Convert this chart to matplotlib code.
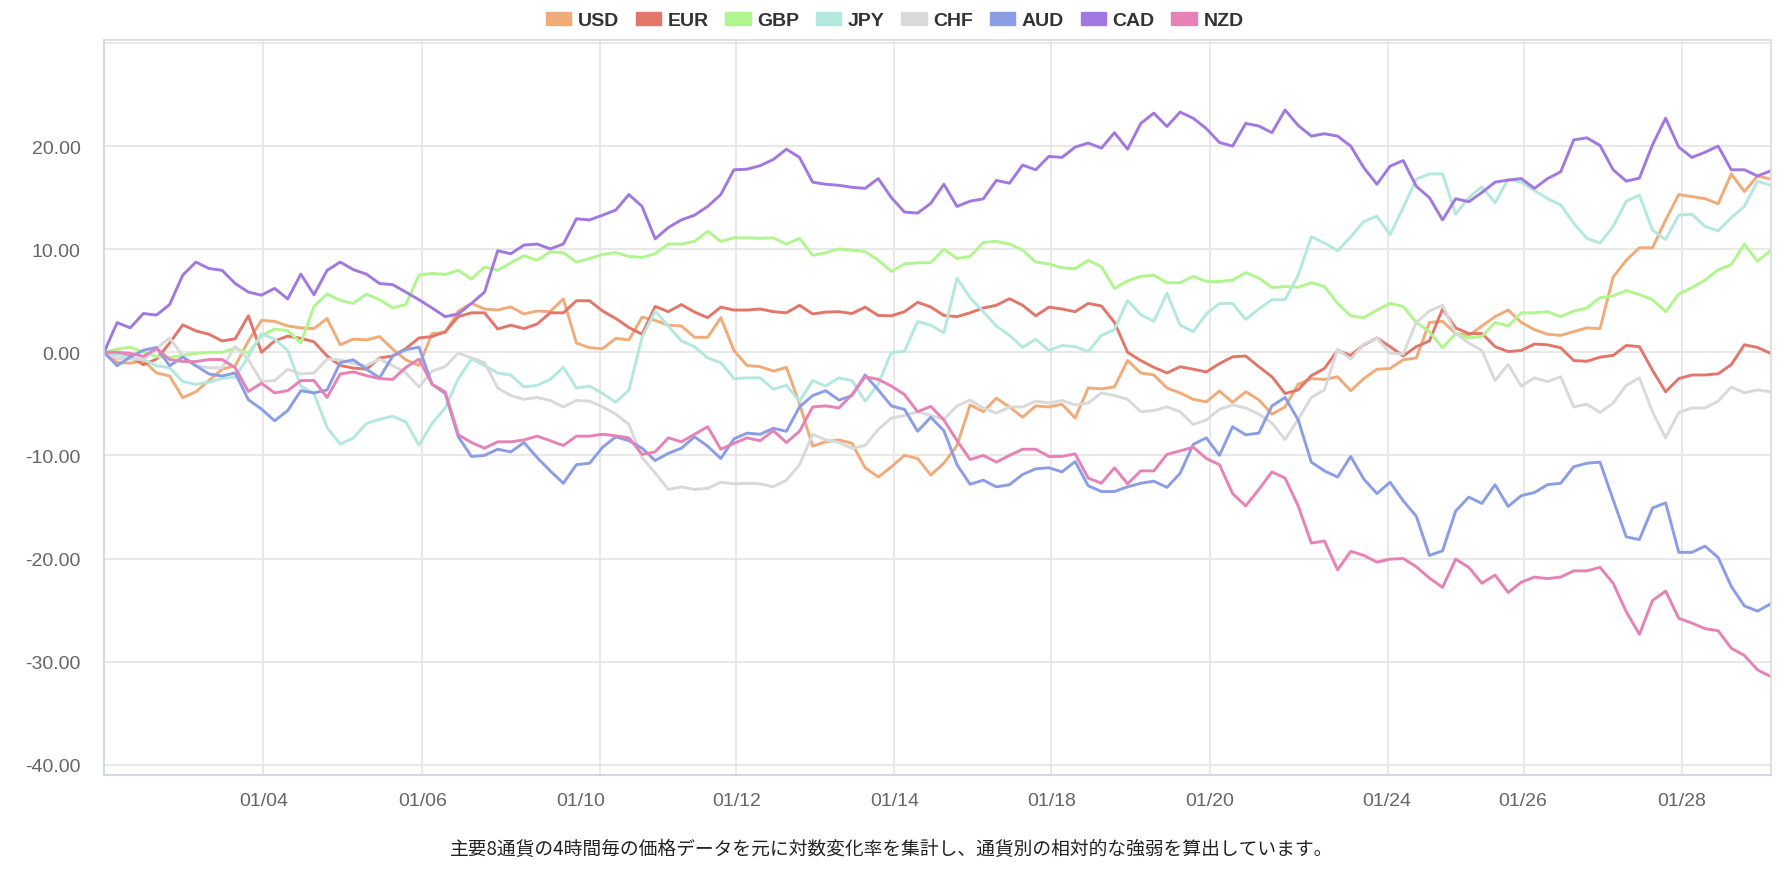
import numpy as np
import matplotlib
matplotlib.use("Agg")
import matplotlib.pyplot as plt
import matplotlib.patches as mpatches

# 4h log-return based strength index, one value per 4h bar
usd = [0, -0.98, -1.06, -0.8, -2.0, -2.3, -4.4, -3.83, -2.74, -1.64, -1.3, 1.1, 3.1,
       3.0, 2.55, 2.37, 2.3, 3.28, 0.73, 1.28, 1.2, 1.53, 0.3, -0.73, -1.28, 1.82,
       1.9, 4.0, 4.74, 4.2, 4.1, 4.4, 3.72, 4.0, 3.94, 5.18, 0.9, 0.44, 0.36,
       1.35, 1.2, 3.4, 3.1, 2.63, 2.55, 1.46, 1.46, 3.36, 0.18, -1.28, -1.39,
       -1.82, -1.46, -5.0, -9.1, -8.68, -8.5, -8.83, -11.2, -12.1, -11.1, -10.0, -10.3, -11.9,
       -10.76, -9.04, -5.1, -5.76, -4.45, -5.3, -6.3, -5.2, -5.3, -5.03, -6.38, -3.46,
       -3.54, -3.36, -0.8, -2.0, -2.2, -3.46, -3.94, -4.56, -4.8, -3.76, -4.85, -3.83, -4.6,
       -6.0, -5.3, -3.1, -2.55, -2.63, -2.37, -3.72, -2.55, -1.64, -1.57, -0.73, -0.55,
       2.9, 3.0, 1.82, 1.64, 2.55, 3.46, 4.1, 2.9, 2.2, 1.75, 1.64, 2.0, 2.37,
       2.3, 7.3, 8.93, 10.14, 10.14, 12.84, 15.3, 15.1, 14.9, 14.4, 17.3, 15.6, 17.1, 16.8]
eur = [0, -0.2, -0.4, -1.2, -0.66, 0.9, 2.66, 2.08, 1.75, 1.1, 1.31, 3.54, 0,
       1.1, 1.57, 1.35, 1.02, -0.36, -1.28, -1.53, -1.64, -0.55, -0.36, 0.36, 1.39, 1.53,
       2.0, 3.46, 3.83, 3.83, 2.26, 2.63, 2.3, 2.74, 3.83, 3.83, 5.0, 5.0, 4.0,
       3.28, 2.4, 1.75, 4.45, 3.94, 4.63, 3.9, 3.36, 4.38, 4.1, 4.1, 4.2,
       3.94, 3.83, 4.56, 3.72, 3.9, 3.94, 3.76, 4.38, 3.57, 3.54, 3.94, 4.85, 4.4,
       3.57, 3.46, 3.83, 4.3, 4.56, 5.2, 4.56, 3.54, 4.38, 4.2, 3.94, 4.74,
       4.5, 2.9, 0, -0.8, -1.46, -2.0, -1.4, -1.64, -1.9, -1.1, -0.44, -0.36, -1.4,
       -2.37, -4.0, -3.65, -2.26, -1.57, 0.18, -0.3, 0.73, 1.39, 0.55, -0.36, 0.55,
       1.1, 4.2, 2.37, 1.82, 1.82, 0.55, 0.07, 0.18, 0.8, 0.73, 0.44, -0.8, -0.87,
       -0.47, -0.3, 0.66, 0.55, -1.75, -3.83, -2.55, -2.2, -2.2, -2.08, -1.2, 0.73, 0.47, -0.1]
gbp = [0, 0.3, 0.5, 0, -0.4, -0.5, -0.3, -0.1, 0, 0, 0.4, -0.1, 1.6,
       2.26, 2.1, 0.9, 4.45, 5.65, 5.03, 4.74, 5.65, 5.1, 4.3, 4.63, 7.48, 7.66,
       7.55, 7.95, 7.1, 8.27, 7.95, 8.68, 9.37, 8.93, 9.74, 9.66, 8.75, 9.1, 9.5,
       9.66, 9.3, 9.2, 9.56, 10.5, 10.5, 10.76, 11.74, 10.76, 11.1, 11.1, 11.05,
       11.1, 10.5, 11.05, 9.4, 9.66, 10.03, 9.9, 9.77, 8.93, 7.84, 8.57, 8.68, 8.7,
       10.0, 9.1, 9.3, 10.65, 10.76, 10.5, 9.92, 8.75, 8.57, 8.2, 8.1, 8.93,
       8.3, 6.2, 6.93, 7.37, 7.48, 6.75, 6.75, 7.37, 6.86, 6.86, 7.0, 7.73, 7.2,
       6.27, 6.38, 6.3, 6.75, 6.38, 4.74, 3.54, 3.36, 4.1, 4.74, 4.45, 2.9,
       2.0, 0.44, 1.82, 1.39, 1.53, 2.9, 2.55, 3.83, 3.83, 3.94, 3.46, 4.0, 4.3,
       5.3, 5.47, 6.0, 5.6, 5.1, 3.94, 5.65, 6.27, 7.0, 8.0, 8.5, 10.5, 8.83, 9.85]
jpy = [0, -0.2, -0.55, -0.7, -1.3, -1.5, -2.84, -3.1, -2.9, -2.55, -2.4, -0.4, 1.8,
       1.28, 0.18, -3.28, -4.0, -7.3, -8.9, -8.3, -6.9, -6.5, -6.2, -6.75, -9.0, -6.9,
       -5.4, -2.55, -0.66, -1.28, -2.0, -2.2, -3.36, -3.2, -2.63, -1.46, -3.46, -3.28, -4.0,
       -4.85, -3.65, 1.46, 4.0, 2.55, 1.1, 0.55, -0.55, -1.0, -2.55, -2.48, -2.48,
       -3.57, -3.2, -4.74, -2.74, -3.28, -2.48, -2.74, -4.74, -3.1, 0, 0.1, 3.0, 2.63,
       1.9, 7.18, 5.3, 3.94, 2.55, 1.64, 0.47, 1.28, 0.18, 0.66, 0.55, 0.07,
       1.64, 2.2, 5.03, 3.65, 3.0, 5.73, 2.63, 2.0, 3.72, 4.74, 4.74, 3.2, 4.2,
       5.1, 5.1, 7.48, 11.2, 10.6, 9.85, 11.2, 12.7, 13.2, 11.4, 14.04, 16.8,
       17.3, 17.3, 13.4, 15.0, 16.05, 14.5, 16.8, 16.5, 15.7, 14.9, 14.3, 12.5, 11.05,
       10.6, 12.2, 14.66, 15.24, 11.85, 10.94, 13.3, 13.4, 12.2, 11.78, 13.05, 14.15, 16.6, 16.2]
chf = [0, -0.6, -0.65, -0.7, 0.36, 1.4, -0.36, -1.3, -1.5, -1.5, 0.55, -0.7, -2.84,
       -2.74, -1.64, -2.1, -2.0, -0.66, -0.73, -1.1, -1.28, -0.66, -1.28, -2.0, -3.36, -1.82,
       -1.39, -0.07, -0.55, -1.0, -3.46, -4.2, -4.56, -4.38, -4.67, -5.3, -4.67, -4.74, -5.3,
       -6.0, -7.0, -10.2, -11.7, -13.3, -13.05, -13.3, -13.2, -12.6, -12.76, -12.7, -12.76,
       -13.05, -12.4, -10.9, -7.95, -8.5, -8.75, -9.3, -9.04, -7.48, -6.38, -6.13, -5.76, -6.13,
       -6.5, -5.2, -4.63, -5.4, -5.9, -5.3, -5.3, -4.74, -4.92, -4.67, -5.1, -4.92,
       -3.94, -4.2, -4.56, -5.76, -5.65, -5.3, -5.76, -7.0, -6.56, -5.54, -5.1, -5.4, -6.0,
       -6.86, -8.46, -6.5, -4.38, -3.65, 0.3, -0.66, 0.8, 1.39, -0.07, -0.18, 2.9,
       4.0, 4.56, 1.82, 0.9, 0.18, -2.74, -1.17, -3.28, -2.48, -2.84, -2.37, -5.3, -5.03,
       -5.84, -4.92, -3.2, -2.48, -5.76, -8.3, -5.84, -5.4, -5.4, -4.74, -3.36, -3.94, -3.65, -3.83]
aud = [0, -1.3, -0.45, 0.2, 0.47, -1.3, -0.47, -1.3, -2.1, -2.3, -2.0, -4.6, -5.5,
       -6.64, -5.65, -3.72, -3.94, -3.65, -1.0, -0.73, -1.64, -2.48, -0.36, 0.26, 0.5, -3.1,
       -4.0, -8.2, -10.1, -10.0, -9.4, -9.66, -8.75, -10.2, -11.5, -12.7, -10.9, -10.76, -9.2,
       -8.2, -8.57, -9.3, -10.5, -9.8, -9.3, -8.2, -9.1, -10.3, -8.4, -7.84, -7.95,
       -7.37, -7.66, -5.3, -4.2, -3.72, -4.63, -4.2, -2.2, -3.65, -5.2, -5.54, -7.66, -6.3,
       -7.6, -10.9, -12.8, -12.4, -13.05, -12.84, -11.85, -11.3, -11.2, -11.6, -10.6, -12.95,
       -13.5, -13.5, -13.05, -12.7, -12.5, -13.1, -11.74, -8.93, -8.3, -10.0, -7.22, -8.0, -7.84,
       -5.2, -4.38, -6.56, -10.65, -11.5, -12.1, -10.1, -12.3, -13.7, -12.6, -14.4, -15.9,
       -19.7, -19.25, -15.4, -14.04, -14.66, -12.84, -14.95, -13.9, -13.6, -12.84, -12.7, -11.1, -10.76,
       -10.65, -14.3, -17.9, -18.16, -15.1, -14.6, -19.4, -19.4, -18.8, -19.9, -22.7, -24.6, -25.1, -24.4]
cad = [0, 2.88, 2.37, 3.76, 3.61, 4.63, 7.48, 8.75, 8.13, 7.95, 6.67, 5.84, 5.54,
       6.2, 5.18, 7.58, 5.58, 7.95, 8.75, 8.02, 7.58, 6.67, 6.56, 5.84, 5.1, 4.3,
       3.46, 3.72, 4.74, 5.84, 9.85, 9.56, 10.4, 10.5, 10.03, 10.5, 12.95, 12.84, 13.3,
       13.8, 15.3, 14.15, 11.0, 12.1, 12.84, 13.3, 14.15, 15.3, 17.7, 17.76, 18.1,
       18.7, 19.7, 18.9, 16.5, 16.3, 16.2, 16.0, 15.9, 16.85, 15.0, 13.6, 13.5, 14.45,
       16.3, 14.15, 14.66, 14.88, 16.67, 16.4, 18.16, 17.7, 19.0, 18.9, 19.9, 20.3,
       19.8, 21.3, 19.7, 22.2, 23.2, 21.9, 23.3, 22.7, 21.7, 20.35, 20.0, 22.2, 21.95,
       21.3, 23.5, 22.0, 20.97, 21.2, 20.97, 20.0, 17.9, 16.3, 18.05, 18.6, 16.1,
       15.0, 12.84, 14.9, 14.6, 15.5, 16.5, 16.7, 16.85, 15.9, 16.85, 17.5, 20.6, 20.8,
       20.06, 17.7, 16.6, 16.9, 20.13, 22.7, 19.9, 18.9, 19.4, 20.0, 17.7, 17.7, 17.1, 17.6]
nzd = [0, 0, -0.1, -0.4, 0.36, -0.7, -0.9, -0.9, -0.7, -0.7, -1.5, -3.8, -3.0,
       -3.94, -3.72, -2.74, -2.74, -4.38, -2.1, -1.9, -2.26, -2.55, -2.63, -1.46, -0.66, -3.1,
       -3.83, -8.0, -8.75, -9.3, -8.68, -8.68, -8.5, -8.13, -8.57, -9.04, -8.13, -8.13, -7.95,
       -8.1, -8.3, -9.9, -9.66, -8.3, -8.68, -7.95, -7.22, -9.4, -8.83, -8.3, -8.57,
       -7.6, -8.75, -7.66, -5.3, -5.2, -5.4, -4.1, -2.37, -2.63, -3.28, -4.1, -5.76, -5.25,
       -6.56, -8.57, -10.4, -10.0, -10.65, -10.0, -9.4, -9.4, -10.1, -10.1, -9.85, -12.2,
       -12.7, -11.2, -12.76, -11.5, -11.5, -9.9, -9.56, -9.2, -10.3, -10.9, -13.7, -14.9, -13.3,
       -11.6, -12.2, -14.9, -18.5, -18.3, -21.1, -19.3, -19.7, -20.35, -20.06, -20.0, -20.8,
       -21.9, -22.8, -20.06, -20.86, -22.4, -21.6, -23.3, -22.3, -21.8, -21.95, -21.8, -21.2, -21.2,
       -20.86, -22.4, -25.16, -27.35, -24.07, -23.16, -25.8, -26.26, -26.8, -27.0, -28.7, -29.4, -30.8, -31.44]

currencies = ["USD", "EUR", "GBP", "JPY", "CHF", "AUD", "CAD", "NZD"]
series = [usd, eur, gbp, jpy, chf, aud, cad, nzd]
colors = ["#f0ab78", "#e2766b", "#b1f58e", "#b3e8df", "#d9d9d9", "#8b9de6", "#a178e0", "#e682b6"]

date_labels = ["01/04", "01/06", "01/10", "01/12", "01/14", "01/18", "01/20", "01/24", "01/26", "01/28"]
# label anchors and split lines sit on the bar axis (not always the same spot)
label_pos = [12.14, 24.26, 36.3, 48.2, 60.23, 72.18, 84.25, 97.75, 108.1, 120.25]
split_pos = [12.14, 24.26, 37.77, 48.15, 60.23, 72.18, 84.25, 97.81, 108.18, 120.25]

caption = "主要8通貨の4時間毎の価格データを元に対数変化率を集計し、通貨別の相対的な強弱を算出しています。"

fig = plt.figure(figsize=(17.84, 8.70), dpi=100)
ax = fig.add_axes([0.0583, 0.108, 0.9342, 0.845])

x = np.arange(len(usd))
for name, vals, c in zip(currencies, series, colors):
    ax.plot(x, vals, color=c, lw=2.1, label=name, solid_joinstyle="round")

ax.set_xlim(0, len(usd) - 1)
ax.set_ylim(-41, 30.3)
ax.set_yticks(np.arange(-40, 21, 10))
ax.yaxis.set_major_formatter(lambda v, p: f"{v:.2f}")
ax.xaxis.remove_overlapping_locs = False
ax.set_xticks(label_pos, date_labels)
ax.set_xticks(split_pos, minor=True)
ax.axhline(30, color="#e6e6e6", lw=1.3, zorder=0)
ax.grid(True, axis="y", color="#e6e6e6", lw=1.3, zorder=0)
ax.grid(True, axis="x", which="minor", color="#e6e6e6", lw=1.3, zorder=0)
ax.set_axisbelow(True)
for lab in ax.get_xticklabels() + ax.get_yticklabels():
    lab.set_family("Liberation Sans")
ax.tick_params(axis="both", which="both", length=0, labelsize=14, colors="#666666")
ax.tick_params(axis="y", pad=17)
ax.tick_params(axis="x", pad=12)
for side in ["left", "bottom"]:
    ax.spines[side].set_color("#ccd6eb")
    ax.spines[side].set_linewidth(1.3)
for side in ["top", "right"]:
    ax.spines[side].set_color("#dddddd")
    ax.spines[side].set_linewidth(1.3)

handles = [mpatches.Patch(color=c, label=n) for n, c in zip(currencies, colors)]
leg = fig.legend(handles=handles, loc="center", bbox_to_anchor=(0.5015, 0.975), ncol=8,
                 frameon=False, handlelength=1.3, handleheight=0.6, handletextpad=0.35,
                 columnspacing=0.85, prop={"family": "Liberation Sans", "weight": "bold", "size": 14})
for t in leg.get_texts():
    t.set_color("#333333")

fig.text(0.5, 0.0237, caption, ha="center", va="center", fontsize=13.5,
         family=["Noto Sans CJK JP", "DejaVu Sans"], color="#222222")

fig.savefig("out.png", dpi=100)
